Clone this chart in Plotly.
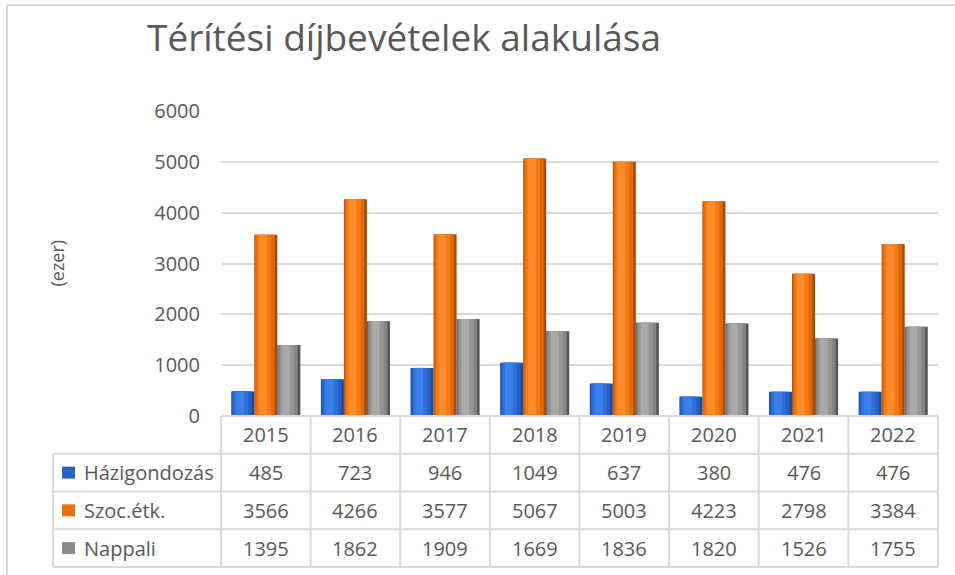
import plotly.graph_objects as go

# ---- data ----
years = ["2015", "2016", "2017", "2018", "2019", "2020", "2021", "2022"]
series_names = ["Házigondozás", "Szoc.étk.", "Nappali"]
hazigondozas = [485, 723, 946, 1049, 637, 380, 476, 476]
szoc_etk = [3566, 4266, 3577, 5067, 5003, 4223, 2798, 3384]
nappali = [1395, 1862, 1909, 1669, 1836, 1820, 1526, 1755]
y_ticks = [0, 1000, 2000, 3000, 4000, 5000, 6000]

series_values = [hazigondozas, szoc_etk, nappali]

# ---- styles ----
TEXT = "#595959"
GRID = "#d9d9d9"
FONT = "Open Sans"
# stepped "cylinder" shading: (width fraction, centre shift, colour)
shades = [
    [(1.00, 0.00, "#1c4a9c"), (0.86, -0.04, "#2660c4"), (0.62, -0.08, "#2f70d8"), (0.34, -0.12, "#3b80ea")],
    [(1.00, 0.00, "#a84a06"), (0.86, -0.04, "#e0680c"), (0.62, -0.08, "#f57a14"), (0.34, -0.12, "#ff8c2a")],
    [(1.00, 0.00, "#555555"), (0.86, -0.04, "#848484"), (0.62, -0.08, "#969696"), (0.34, -0.12, "#a9a9a9")],
]
legend_colors = ["#2a62c4", "#e8700f", "#8a8a8a"]

bar_w = 0.257
centres = [-bar_w, 0.0, bar_w]

fig = go.Figure()
for k, (name, vals) in enumerate(zip(series_names, series_values)):
    for j, (wf, shift, col) in enumerate(shades[k]):
        w = bar_w * wf
        c = centres[k] + shift * bar_w
        fig.add_trace(go.Bar(
            x=years, y=vals, name=name,
            width=w, offset=c - w / 2,
            marker=dict(color=col, line=dict(width=0)),
            showlegend=False,
            hoverinfo="x+y+name" if j == 0 else "skip",
            yaxis="y",
        ))

n = len(years)
table_frac = 151 / 456

fig.update_layout(
    width=955, height=575, autosize=False,
    margin=dict(l=221, r=17, t=111, b=8, autoexpand=False),
    paper_bgcolor="white", plot_bgcolor="white",
    barmode="overlay",
    font=dict(family=FONT, color=TEXT, size=20),
    title=dict(
        text="Térítési díjbevételek alakulása",
        font=dict(family=FONT, size=37, color=TEXT),
        xref="container", x=147 / 955, xanchor="left",
        yref="container", y=1 - 38 / 575, yanchor="middle",
    ),
    xaxis=dict(
        type="category", range=[-0.5, n - 0.5],
        showticklabels=False, showgrid=False, zeroline=False,
        showline=False, ticks="", fixedrange=True, automargin=False,
    ),
    yaxis=dict(
        domain=[table_frac, 1], range=[0, 6000],
        tickvals=y_ticks, ticktext=[str(v) for v in y_ticks],
        showgrid=True, gridcolor=GRID, gridwidth=1.5,
        zeroline=False, showline=False, ticks="",
        ticklabelstandoff=20, automargin=False,
        tickfont=dict(family=FONT, size=20, color=TEXT),
    ),
    yaxis2=dict(
        domain=[0, table_frac], range=[4, 0], anchor="x",
        visible=False, showgrid=False, zeroline=False, automargin=False,
    ),
)

shapes = []
LW = 2
label_left = (53 - 221) / 717
# horizontal table lines
for i in range(5):
    yy = 1 - i / 4
    x0 = 0 if i == 0 else label_left
    shapes.append(dict(type="line", xref="x domain", yref="y2 domain",
                       x0=x0, x1=1, y0=yy, y1=yy,
                       line=dict(color=GRID, width=LW)))
# vertical table lines
for i in range(n + 1):
    shapes.append(dict(type="line", xref="x domain", yref="y2 domain",
                       x0=i / n, x1=i / n, y0=0, y1=1,
                       line=dict(color=GRID, width=LW)))
shapes.append(dict(type="line", xref="x domain", yref="y2 domain",
                   x0=label_left, x1=label_left, y0=0, y1=0.75,
                   line=dict(color=GRID, width=LW)))
# legend keys
for r, col in enumerate(legend_colors):
    yc = 1 - (r + 1.5) / 4
    shapes.append(dict(type="rect", xref="x domain", yref="y2 domain",
                       x0=(62 - 221) / 717, x1=(75 - 221) / 717,
                       y0=yc - 6 / 151, y1=yc + 6 / 151,
                       fillcolor=col, line=dict(color=col, width=0)))
# outer chart border
shapes.append(dict(type="line", xref="paper", yref="paper",
                   x0=(7 - 221) / 717, x1=(960 - 221) / 717,
                   y0=(567 - 5) / 456, y1=(567 - 5) / 456,
                   line=dict(color=GRID, width=2)))
shapes.append(dict(type="line", xref="paper", yref="paper",
                   x0=(7 - 221) / 717, x1=(7 - 221) / 717,
                   y0=(567 - 5) / 456, y1=-0.05,
                   line=dict(color=GRID, width=2)))

annotations = []
# header years (category index positions on the x axis)
for i, yr in enumerate(years):
    annotations.append(dict(x=i, y=0.5, xref="x", yref="y2", text=yr,
                            showarrow=False, font=dict(size=20, color=TEXT, family=FONT)))
# values
for r, vals in enumerate(series_values):
    for i, v in enumerate(vals):
        annotations.append(dict(x=i, y=r + 1.5, xref="x", yref="y2", text=str(v),
                                showarrow=False, font=dict(size=20, color=TEXT, family=FONT)))
    annotations.append(dict(x=(82 - 221) / 717, y=r + 1.5, xref="x domain", yref="y2",
                            text=series_names[r], xanchor="left", showarrow=False,
                            font=dict(size=20, color=TEXT, family=FONT)))
# y-axis title
annotations.append(dict(x=(42 - 221) / 717, y=0.5, xref="paper", yref="y domain",
                        text="(ezer)", textangle=-90, showarrow=False,
                        font=dict(size=18, color=TEXT, family=FONT)))

fig.update_layout(shapes=shapes, annotations=annotations)

fig.write_html("out.html", config={"displayModeBar": False})

# remove the browser's default page margin so the figure sits at (0, 0)
with open("out.html", "r", encoding="utf-8") as f:
    html = f.read()
html = html.replace("<head>", "<head><style>html,body{margin:0;padding:0;overflow:hidden;}</style>", 1)
with open("out.html", "w", encoding="utf-8") as f:
    f.write(html)
